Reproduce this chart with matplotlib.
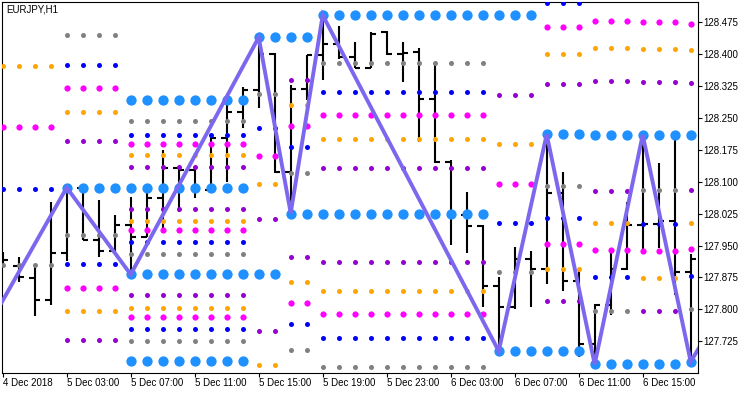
import matplotlib
matplotlib.use("Agg")
import matplotlib.pyplot as plt
import numpy as np

plt.rcParams['font.family'] = ['Liberation Sans', 'DejaVu Sans']

chart_title = "EURJPY,H1"
time_labels = ["4 Dec 2018", "5 Dec 03:00", "5 Dec 07:00", "5 Dec 11:00", "5 Dec 15:00",
               "5 Dec 19:00", "5 Dec 23:00", "6 Dec 03:00", "6 Dec 07:00", "6 Dec 11:00",
               "6 Dec 15:00"]
time_label_bars = [0, 4, 8, 12, 16, 20, 24, 28, 32, 36, 40]
price_ticks = [127.725, 127.800, 127.875, 127.950, 128.025, 128.100,
               128.175, 128.250, 128.325, 128.400, 128.475]

# hourly OHLC bars, 4 Dec 23:00 .. 6 Dec 18:00
opens = [127.921, 127.903, 127.874, 127.821, 127.932, 128.084, 127.963, 127.936,
         127.998, 127.971, 128.062, 128.133, 128.127, 128.080, 128.202, 128.264,
         128.315, 128.401, 128.123, 128.318, 128.397, 128.423, 128.392, 128.366,
         128.451, 128.400, 128.404, 128.293, 128.147, 128.022, 127.996, 127.856,
         127.805, 127.918, 127.894, 128.073, 127.867, 127.718, 127.810, 127.894,
         127.997, 128.000, 128.007, 127.888]
highs = [127.935, 127.923, 127.907, 128.052, 128.086, 128.086, 128.057, 128.022,
         128.065, 128.075, 128.174, 128.137, 128.128, 128.205, 128.292, 128.322,
         128.439, 128.402, 128.327, 128.398, 128.491, 128.466, 128.429, 128.451,
         128.454, 128.429, 128.413, 128.374, 128.151, 128.075, 127.998, 127.877,
         127.946, 127.938, 128.211, 128.123, 127.890, 127.813, 127.932, 128.053,
         128.210, 128.143, 128.198, 127.930]
lows = [127.897, 127.864, 127.784, 127.810, 127.914, 127.963, 127.922, 127.930,
        127.882, 127.969, 127.986, 128.029, 128.061, 128.079, 128.098, 128.227,
        128.272, 128.120, 128.026, 128.292, 128.339, 128.387, 128.366, 128.366,
        128.397, 128.335, 128.192, 128.143, 127.951, 127.932, 127.805, 127.702,
        127.800, 127.805, 127.860, 127.844, 127.689, 127.671, 127.787, 127.893,
        127.937, 127.943, 127.834, 127.677]
closes = [127.917, 127.877, 127.821, 127.932, 128.084, 127.964, 127.936, 127.998,
          127.971, 128.062, 128.133, 128.127, 128.080, 128.202, 128.264, 128.315,
          128.401, 128.123, 128.318, 128.397, 128.423, 128.392, 128.366, 128.448,
          128.401, 128.403, 128.293, 128.147, 128.022, 127.996, 127.856, 127.805,
          127.918, 127.894, 128.073, 127.867, 127.718, 127.810, 127.894, 127.997,
          128.000, 128.007, 127.888, 127.918]

# zigzag turning points (bar index, price)
zigzag_bars = [-2, 4, 8, 16, 18, 20, 31, 34, 37, 40, 43, 44]
zigzag_prices = [127.688, 128.086, 127.882, 128.439, 128.026, 128.491,
                 127.702, 128.211, 127.671, 128.210, 127.677, 127.740]

# level segments (first bar, last bar) and the dotted levels in each
seg_start = [0, 4, 8, 16, 18, 20, 31, 34, 37, 40, 43]
seg_end = [3, 7, 15, 17, 19, 30, 33, 36, 39, 42, 43]

big_levels = [[], [128.086], [128.291, 128.086, 127.882, 127.679], [128.439, 127.882],
              [128.439, 128.025], [128.491, 128.025], [128.491, 127.702], [128.211, 127.702],
              [128.210, 127.671], [128.210, 127.671], [128.210, 127.677]]
gray_levels = [[127.904], [128.444, 127.974], [128.242, 127.929, 127.725], [128.305],
               [128.120, 127.704], [128.379, 127.665], [127.887], [128.089],
               [127.795], [128.080], [127.800]]
blue_levels = [[128.083], [128.373, 127.906], [128.210, 127.958, 127.753], [128.226],
               [128.181, 127.766], [128.310, 127.733], [128.003], [128.520, 128.014],
               [127.876], [128.001], [127.878]]
magenta_levels = [[128.228], [128.320, 127.851], [128.188, 127.986, 127.781], [128.161],
                  [128.231, 127.816], [128.257, 127.790], [128.095], [128.464, 127.954],
                  [128.478, 127.940], [128.475, 127.938], [128.471, 127.942]]
orange_levels = [[128.372], [128.263, 127.795], [128.162, 128.008, 127.803], [128.094, 127.669],
                 [128.279, 127.864], [128.200, 127.843], [128.188], [128.401, 127.895],
                 [128.413, 128.002], [128.411, 127.874], [128.409, 128.002]]
purple_levels = [[], [128.195, 127.727], [128.134, 128.036, 127.834], [128.012, 127.748],
                 [128.338, 127.922], [128.131, 127.911], [128.303], [128.329, 127.819],
                 [128.336, 128.079], [128.333, 127.795], [128.331, 128.080]]

fig = plt.figure(figsize=(7.5, 3.94), dpi=100)
ax = fig.add_axes([2 / 750, 21 / 394, 696 / 750, 371 / 394])


def draw_levels(levels, color, size):
    xs, ys = [], []
    for s, e, lv in zip(seg_start, seg_end, levels):
        for p in lv:
            for b in range(s, e + 1):
                xs.append(b)
                ys.append(p)
    ax.scatter(xs, ys, s=size, color=color, linewidths=0, zorder=3)


# bars
bars = np.arange(len(opens))
tick = 0.33
ax.vlines(bars, lows, highs, color='black', lw=1.5, zorder=2)
ax.hlines(opens, bars - tick, bars, color='black', lw=1.5, zorder=2)
ax.hlines(closes, bars, bars + tick, color='black', lw=1.5, zorder=2)

draw_levels(big_levels, '#1E90FF', 55)
draw_levels(gray_levels, '#808080', 13)
draw_levels(blue_levels, '#0000FF', 13)
draw_levels(magenta_levels, '#FF00FF', 20)
draw_levels(orange_levels, '#FFA500', 13)
draw_levels(purple_levels, '#9400D3', 13)

ax.plot(zigzag_bars, zigzag_prices, color='#7B68EE', lw=2.8, zorder=4,
        solid_joinstyle='miter')

ax.set_xlim(-0.044, 43.456)
ax.set_ylim(127.6505, 128.522)

ax.yaxis.tick_right()
ax.set_yticks(price_ticks)
ax.set_yticklabels([f"{v:.3f}" for v in price_ticks])
ax.tick_params(axis='y', direction='out', length=3, width=0.8, pad=1, labelsize=7)

ax.set_xticks(time_label_bars)
ax.set_xticklabels(time_labels, ha='left')
ax.tick_params(axis='x', direction='out', length=3, width=0.8, pad=0.5, labelsize=7)

for sp in ax.spines.values():
    sp.set_linewidth(0.8)
    sp.set_color('black')

ax.text(4 / 696, 1 - 2 / 371, chart_title, transform=ax.transAxes,
        ha='left', va='top', fontsize=7)

fig.savefig('out.png', dpi=100)
